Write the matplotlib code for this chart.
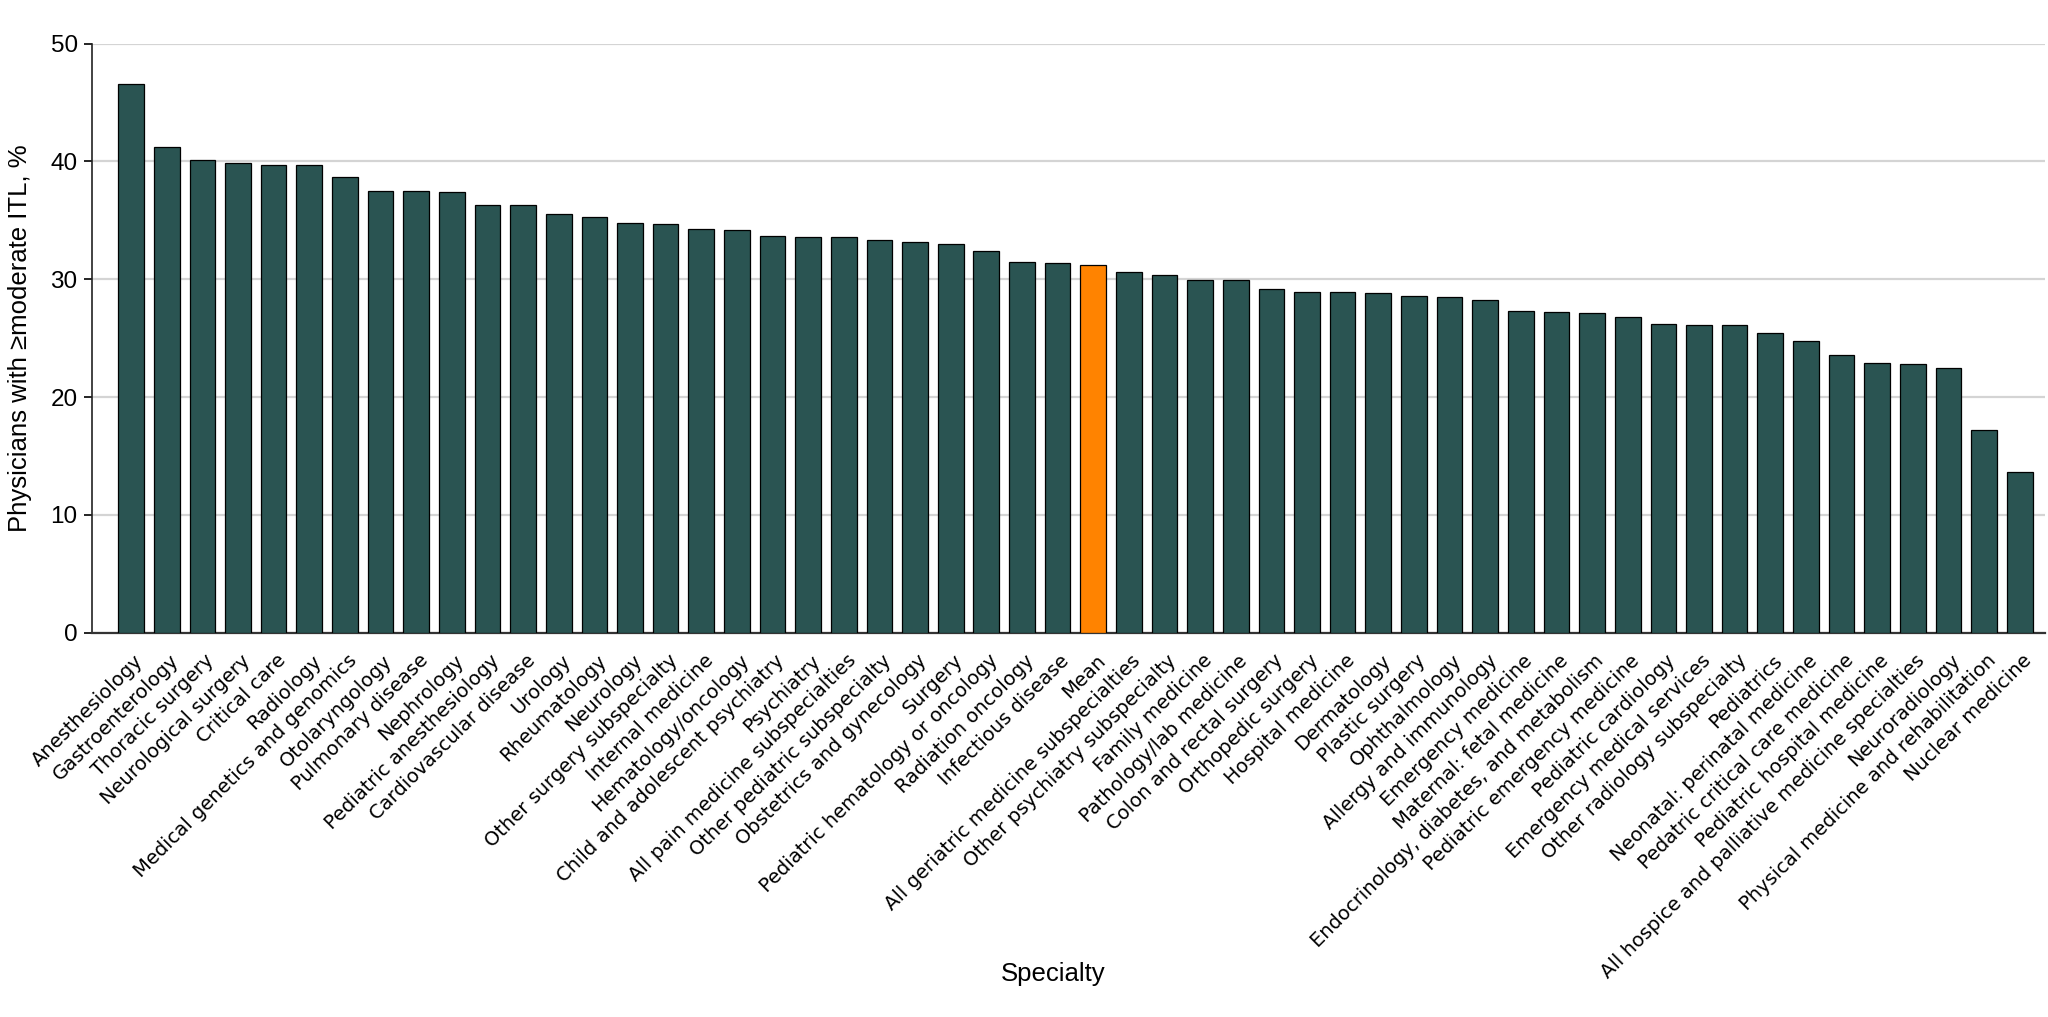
import numpy as np
import matplotlib
matplotlib.use("Agg")
import matplotlib.pyplot as plt
from matplotlib.transforms import ScaledTranslation

specialties = [
    "Anesthesiology", "Gastroenterology", "Thoracic surgery", "Neurological surgery",
    "Critical care", "Radiology", "Medical genetics and genomics", "Otolaryngology",
    "Pulmonary disease", "Nephrology", "Pediatric anesthesiology", "Cardiovascular disease",
    "Urology", "Rheumatology", "Neurology", "Other surgery subspecialty",
    "Internal medicine", "Hematology/oncology", "Child and adolescent psychiatry",
    "Psychiatry", "All pain medicine subspecialties", "Other pediatric subspecialty",
    "Obstetrics and gynecology", "Surgery", "Pediatric hematology or oncology",
    "Radiation oncology", "Infectious disease", "Mean",
    "All geriatric medicine subspecialties", "Other psychiatry subspecialty",
    "Family medicine", "Pathology/lab medicine", "Colon and rectal surgery",
    "Orthopedic surgery", "Hospital medicine", "Dermatology", "Plastic surgery",
    "Ophthalmology", "Allergy and immunology", "Emergency medicine",
    "Maternal: fetal medicine", "Endocrinology, diabetes, and metabolism",
    "Pediatric emergency medicine", "Pediatric cardiology", "Emergency medical services",
    "Other radiology subspecialty", "Pediatrics", "Neonatal: perinatal medicine",
    "Pedatric critical care medicine", "Pediatric hospital medicine",
    "All hospice and palliative medicine specialties", "Neuroradiology",
    "Physical medicine and rehabilitation", "Nuclear medicine",
]

pct_itl = [
    46.6, 41.2, 40.1, 39.9, 39.7, 39.7, 38.7, 37.5, 37.5, 37.4, 36.3, 36.3,
    35.5, 35.3, 34.8, 34.7, 34.3, 34.2, 33.7, 33.6, 33.6, 33.3, 33.2, 33.0,
    32.4, 31.5, 31.4, 31.2, 30.6, 30.4, 29.9, 29.9, 29.2, 28.9, 28.9, 28.8,
    28.6, 28.5, 28.2, 27.3, 27.2, 27.1, 26.8, 26.2, 26.1, 26.1, 25.4, 24.8,
    23.6, 22.9, 22.8, 22.5, 17.2, 13.6,
]

yticks = [0, 10, 20, 30, 40, 50]

teal = "#2a5452"
orange = "#ff8300"
colors = [orange if s == "Mean" else teal for s in specialties]
axis_font = "Liberation Sans"

fig = plt.figure(figsize=(20.48, 10.17), dpi=100)
ax = fig.add_axes([0.0447, 0.378, 0.954, 0.579])

x = np.arange(len(specialties))
ax.bar(x, pct_itl, width=0.72, color=colors, edgecolor="black", linewidth=0.9, zorder=3)

ax.set_ylim(0, 50)
ax.set_xlim(-1.11, len(specialties) - 1 + 0.72)
ax.set_yticks(yticks)
ax.yaxis.grid(True, color="#d4d4d4", linewidth=1.6, zorder=0)
ax.set_axisbelow(True)

for s in ["top", "right"]:
    ax.spines[s].set_visible(False)
ax.spines["left"].set_color("#222222")
ax.spines["bottom"].set_color("#333333")
ax.spines["left"].set_linewidth(1.2)
ax.spines["bottom"].set_linewidth(1.6)

ax.tick_params(axis="y", length=6, width=1.2, labelsize=17.5, pad=4)
for t in ax.get_yticklabels():
    t.set_family(axis_font)

ax.tick_params(axis="x", length=0, pad=8)
ax.set_xticks(x)
ax.set_xticklabels(specialties, rotation=45, ha="right", va="center",
                   rotation_mode="anchor", fontsize=14, family="DejaVu Sans")
shift = ScaledTranslation(0.09, -0.07, fig.dpi_scale_trans)
for t in ax.get_xticklabels():
    t.set_y(-0.012)
    t.set_transform(t.get_transform() + shift)

ax.set_ylabel("Physicians with \u2265moderate ITL, %", fontsize=18.5, family=axis_font)
ax.yaxis.set_label_coords(-0.0305, 0.5)
ax.set_xlabel("Specialty", fontsize=18.5, family=axis_font)
ax.xaxis.set_label_coords(0.492, -0.56)

fig.savefig("out.png", dpi=100)
